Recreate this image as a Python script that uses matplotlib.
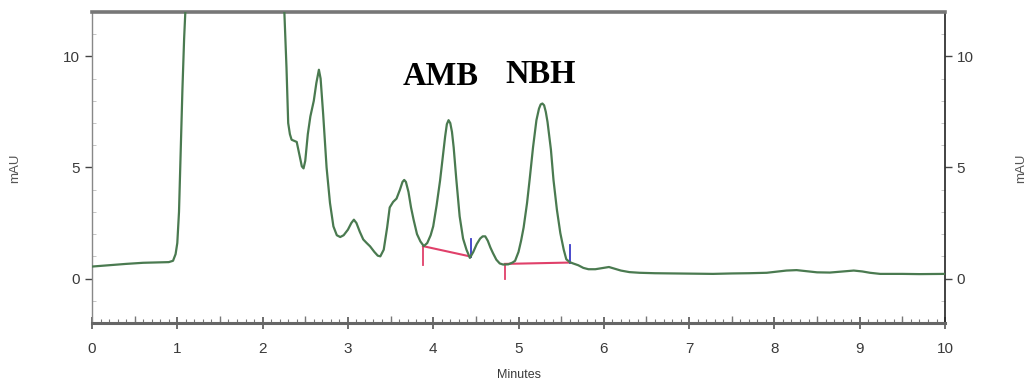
import matplotlib
matplotlib.use("Agg")
import matplotlib.pyplot as plt
from matplotlib.ticker import MultipleLocator, NullFormatter

# ---- data ----
time_min = [0.00, 0.20, 0.40, 0.60, 0.80, 0.90, 0.95, 0.98, 1.00, 1.02, 1.04, 1.06, 1.08, 1.10, 1.14,
            2.20, 2.25, 2.27, 2.28, 2.29, 2.30, 2.32, 2.34, 2.37, 2.40, 2.43, 2.46, 2.48, 2.50, 2.53,
            2.56, 2.60, 2.63, 2.66, 2.68, 2.71, 2.75, 2.79, 2.83, 2.87, 2.91, 2.95, 3.00, 3.04, 3.07,
            3.10, 3.14, 3.18, 3.22, 3.26, 3.31, 3.35, 3.38, 3.42, 3.46, 3.49, 3.53, 3.57, 3.61, 3.64,
            3.66, 3.68, 3.71, 3.74, 3.77, 3.81, 3.85, 3.89, 3.93, 3.97, 4.00, 4.04, 4.08, 4.11, 4.14,
            4.16, 4.18, 4.20, 4.22, 4.24, 4.27, 4.31, 4.35, 4.39, 4.43, 4.47, 4.51, 4.55, 4.58, 4.61,
            4.64, 4.67, 4.70, 4.74, 4.78, 4.82, 4.88, 4.93, 4.96, 5.00, 5.03, 5.06, 5.10, 5.13, 5.17,
            5.21, 5.24, 5.26, 5.28, 5.30, 5.32, 5.34, 5.38, 5.41, 5.45, 5.49, 5.53, 5.56, 5.60, 5.64,
            5.70, 5.76, 5.82, 5.90, 5.98, 6.06, 6.12, 6.20, 6.30, 6.42, 6.60, 6.80, 7.00, 7.28, 7.50,
            7.70, 7.91, 8.03, 8.14, 8.26, 8.38, 8.50, 8.65, 8.80, 8.93, 9.03, 9.12, 9.24, 9.50, 9.70,
            10.00]
signal_mau = [0.54, 0.60, 0.66, 0.71, 0.73, 0.74, 0.80, 1.10, 1.60, 3.00, 5.80, 8.50, 10.80, 12.50, 16.0,
              16.0, 12.50, 10.50, 9.50, 8.20, 7.00, 6.50, 6.25, 6.20, 6.15, 5.60, 5.05, 4.96, 5.30, 6.50,
              7.30, 8.00, 8.80, 9.40, 9.00, 7.40, 5.00, 3.40, 2.35, 1.95, 1.87, 1.95, 2.20, 2.50, 2.65,
              2.50, 2.10, 1.76, 1.60, 1.45, 1.20, 1.03, 1.00, 1.30, 2.30, 3.20, 3.45, 3.60, 4.00, 4.35,
              4.44, 4.35, 3.90, 3.20, 2.65, 2.00, 1.67, 1.46, 1.60, 1.95, 2.35, 3.30, 4.40, 5.40, 6.40,
              6.95, 7.13, 7.00, 6.60, 5.90, 4.50, 2.80, 1.80, 1.30, 0.93, 1.20, 1.55, 1.80, 1.90, 1.90,
              1.70, 1.40, 1.15, 0.85, 0.68, 0.63, 0.64, 0.72, 0.80, 1.20, 1.70, 2.30, 3.40, 4.44, 5.90,
              7.13, 7.65, 7.84, 7.88, 7.80, 7.50, 7.05, 5.80, 4.44, 3.10, 2.05, 1.30, 0.87, 0.74, 0.68,
              0.60, 0.48, 0.42, 0.42, 0.47, 0.52, 0.45, 0.36, 0.29, 0.26, 0.24, 0.23, 0.22, 0.21, 0.23,
              0.24, 0.26, 0.31, 0.36, 0.38, 0.33, 0.28, 0.27, 0.32, 0.36, 0.32, 0.26, 0.21, 0.21, 0.20,
              0.21]

peak_names = ["AMB", "NBH"]
peak_label_x = [4.09, 5.26]
peak_label_y = [8.7, 8.8]
base_start_x = [3.88, 4.84]
base_start_y = [1.46, 0.66]
base_end_x = [4.44, 5.60]
base_end_y = [0.99, 0.72]
start_tick_low = [0.63, -0.04]
end_tick_high = [1.76, 1.52]

fig = plt.figure(figsize=(10.29, 3.84), dpi=100)
ax = fig.add_axes([0.0894, 0.1589, 0.9184 - 0.0894, 0.96875 - 0.1589])

ax.plot(time_min, signal_mau, color="#4a7a50", lw=1.6, zorder=3)

red = "#e0406a"
blue = "#3a3ac8"
for i in range(len(peak_names)):
    ax.plot([base_start_x[i], base_end_x[i]], [base_start_y[i], base_end_y[i]], color=red, lw=1.5, zorder=2)
    ax.plot([base_start_x[i], base_start_x[i]], [start_tick_low[i], base_start_y[i]], color=red, lw=1.3, zorder=2)
    ax.plot([base_end_x[i], base_end_x[i]], [base_end_y[i], end_tick_high[i]], color=blue, lw=1.3, zorder=2)
    ax.text(peak_label_x[i], peak_label_y[i], peak_names[i], family="Liberation Serif",
            fontweight="bold", fontsize=23.5, ha="center", va="baseline", color="black")

ax.set_xlim(0, 10)
ax.set_ylim(-2, 12)

ax.xaxis.set_major_locator(MultipleLocator(1))
ax.xaxis.set_minor_locator(MultipleLocator(0.1))
ax.yaxis.set_major_locator(MultipleLocator(5))
ax.yaxis.set_minor_locator(MultipleLocator(1))

lab_col = "#3a3a3a"
ax.tick_params(axis="x", which="major", direction="inout", length=8, width=1.2, colors="#555555",
               labelcolor=lab_col, labelsize=11, pad=10)
ax.tick_params(axis="x", which="minor", direction="in", length=3, width=0.8, colors="#777777")
ax.tick_params(axis="y", which="major", direction="out", length=5, width=1.0, colors="#444444",
               labelcolor=lab_col, labelsize=11, left=True, right=True, labelleft=True, labelright=True)
ax.tick_params(axis="y", which="minor", direction="in", length=3, width=0.6, colors="#bbbbbb",
               left=True, right=True)
for lbl in ax.get_xticklabels() + ax.get_yticklabels():
    lbl.set_family("Liberation Sans")

# medium ticks at half-minutes
sec = ax.secondary_xaxis("bottom")
sec.set_xticks([i + 0.5 for i in range(10)])
sec.xaxis.set_major_formatter(NullFormatter())
sec.tick_params(direction="in", length=5, width=1.0, colors="#777777")
sec.spines["bottom"].set_visible(False)

ax.spines["top"].set_color("#777777")
ax.spines["top"].set_linewidth(2.6)
ax.spines["bottom"].set_color("#666666")
ax.spines["bottom"].set_linewidth(2.2)
ax.spines["left"].set_color("#888888")
ax.spines["left"].set_linewidth(1.0)
ax.spines["right"].set_color("#222222")
ax.spines["right"].set_linewidth(1.2)

fig.text(0.504, 0.023, "Minutes", fontsize=9, color=lab_col, ha="center", va="center",
         family="Liberation Sans")
fig.text(0.0145, 0.5625, "mAU", rotation=90, fontsize=9.5, color="#555555", ha="center", va="center",
         family="Liberation Sans")
fig.text(0.9925, 0.5625, "mAU", rotation=90, fontsize=9.5, color="#555555", ha="center", va="center",
         family="Liberation Sans")

fig.savefig("out.png", dpi=100)
